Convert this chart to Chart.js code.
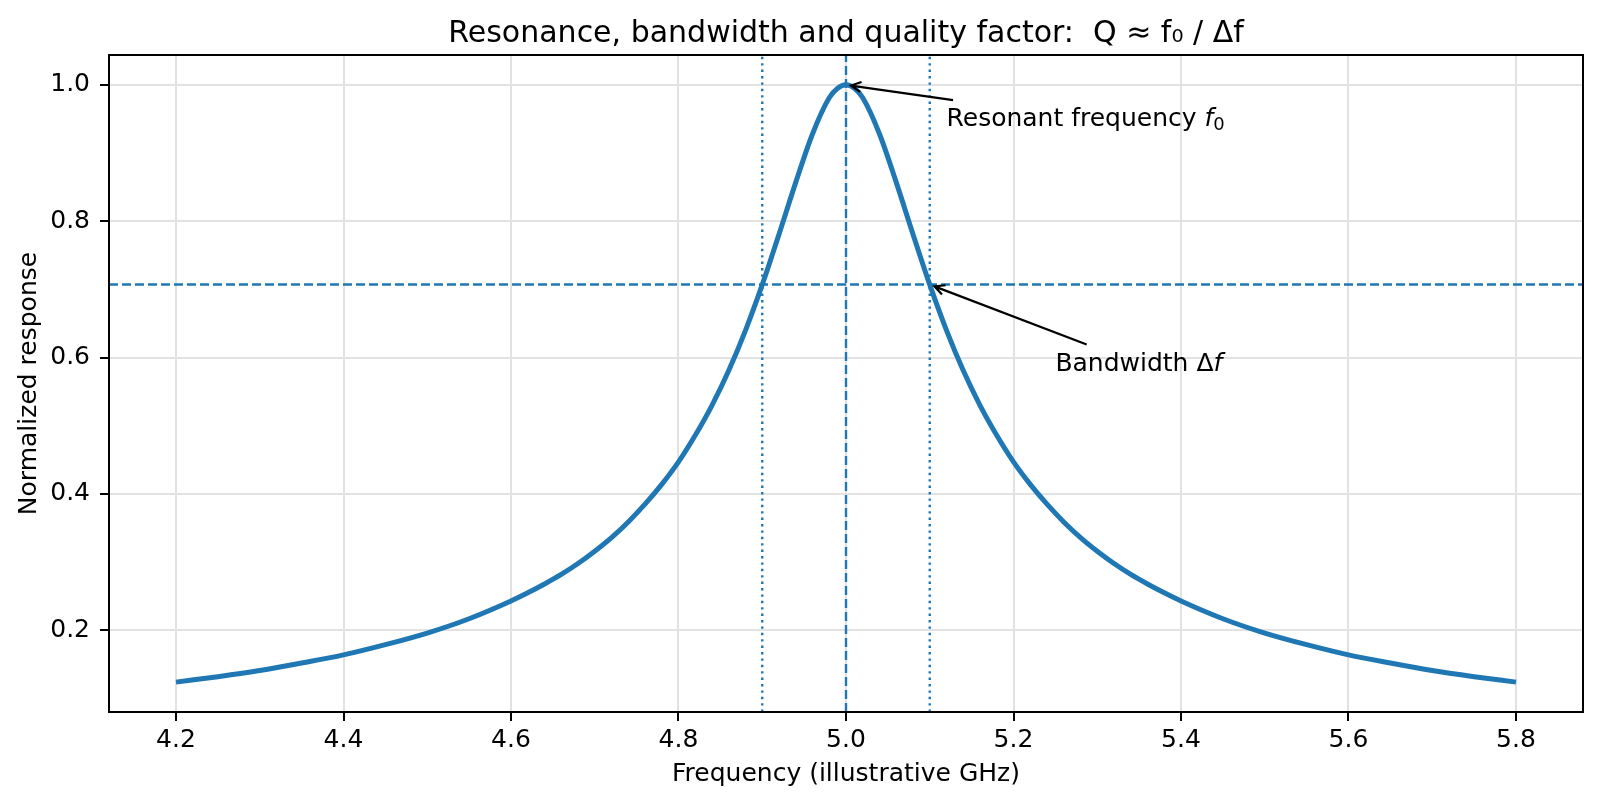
<!DOCTYPE html>
<html>
<head>
<meta charset="utf-8">
<script src="https://cdn.jsdelivr.net/npm/chart.js@4.4.1/dist/chart.umd.min.js"></script>
<style>
  body { margin: 0; background: #fff; }
  canvas { display: block; }
</style>
</head>
<body>
<canvas id="chart" width="1601" height="805"></canvas>
<script>
// values
var freq = [4.20, 4.25, 4.30, 4.35, 4.40, 4.45, 4.50, 4.55, 4.60, 4.62, 4.64, 4.66, 4.68, 4.70,
  4.72, 4.74, 4.76, 4.78, 4.80, 4.82, 4.84, 4.86, 4.88, 4.90, 4.92, 4.94, 4.96, 4.98, 4.99,
  5.00, 5.01, 5.02, 5.04, 5.06, 5.08, 5.10, 5.12, 5.14, 5.16, 5.18, 5.20, 5.22, 5.24, 5.26, 5.28,
  5.30, 5.32, 5.34, 5.36, 5.38, 5.40, 5.45, 5.50, 5.55, 5.60, 5.65, 5.70, 5.75, 5.80];
var response = [0.124, 0.132, 0.141, 0.152, 0.164, 0.179, 0.196, 0.217, 0.243, 0.255, 0.268, 0.282, 0.298, 0.316,
  0.336, 0.359, 0.385, 0.414, 0.447, 0.486, 0.530, 0.581, 0.640, 0.707, 0.781, 0.857, 0.928, 0.981, 0.995,
  1.000, 0.995, 0.981, 0.928, 0.857, 0.781, 0.707, 0.640, 0.581, 0.530, 0.486, 0.447, 0.414, 0.385, 0.359, 0.336,
  0.316, 0.298, 0.282, 0.268, 0.255, 0.243, 0.217, 0.196, 0.179, 0.164, 0.152, 0.141, 0.132, 0.124];

var xTicks = [4.2, 4.4, 4.6, 4.8, 5.0, 5.2, 5.4, 5.6, 5.8];
var yTicks = [0.2, 0.4, 0.6, 0.8, 1.0];
var xRange = [4.12, 5.88];
var yRange = [0.0802, 1.0438];

var centerFreq = 5.0;
var edgeFreqs = [4.9, 5.1];
var halfPower = 0.7071;

var titleText = "Resonance, bandwidth and quality factor:  Q \u2248 f\u2080 / \u0394f";
var noteLabels = ["Resonant frequency ", "Bandwidth \u0394"];
var noteMath = ["f", "f"];
var noteSub = ["0", ""];
var noteAt = [[5.12, 0.94], [5.25, 0.58]];
var notePoint = [[5.0, 1.0], [5.1, 0.7071]];

var blue = "#1f77b4";
var FONT = '"DejaVu Sans", sans-serif';
var FS = 25;

function vline(x) {
  return [{ x: x, y: yRange[0] }, { x: x, y: yRange[1] }];
}

var datasets = [
  {
    data: freq.map(function (f, i) { return { x: f, y: response[i] }; }),
    borderColor: blue, borderWidth: 5, pointRadius: 0,
    cubicInterpolationMode: "monotone", order: 2
  },
  {
    data: [{ x: xRange[0], y: halfPower }, { x: xRange[1], y: halfPower }],
    borderColor: blue, borderWidth: 2.4, borderDash: [9, 4], pointRadius: 0, order: 1
  },
  {
    data: vline(centerFreq),
    borderColor: blue, borderWidth: 2.4, borderDash: [9, 4], pointRadius: 0, order: 1
  }
];
edgeFreqs.forEach(function (f) {
  datasets.push({
    data: vline(f),
    borderColor: blue, borderWidth: 2.4, borderDash: [2.4, 4], pointRadius: 0, order: 1
  });
});

// frame, title and arrow notes
var decor = {
  id: "decor",
  afterDatasetsDraw: function (chart) {
    var ctx = chart.ctx, a = chart.chartArea;
    var xs = chart.scales.x, ys = chart.scales.y;
    ctx.save();
    ctx.strokeStyle = "#000";
    ctx.lineWidth = 2;
    ctx.strokeRect(a.left, a.top, a.right - a.left, a.bottom - a.top);

    ctx.fillStyle = "#000";
    ctx.font = "30px " + FONT;
    ctx.textAlign = "center";
    ctx.textBaseline = "alphabetic";
    ctx.fillText(titleText, (a.left + a.right) / 2, 42);

    ctx.textAlign = "left";
    for (var i = 0; i < noteLabels.length; i++) {
      var px = xs.getPixelForValue(noteAt[i][0]);
      var py = ys.getPixelForValue(noteAt[i][1]);
      ctx.font = FS + "px " + FONT;
      ctx.fillText(noteLabels[i], px, py);
      var w = ctx.measureText(noteLabels[i]).width;
      ctx.font = "italic " + FS + "px " + FONT;
      ctx.fillText(noteMath[i], px + w, py);
      w += ctx.measureText(noteMath[i]).width;
      if (noteSub[i]) {
        ctx.font = Math.round(FS * 0.7) + "px " + FONT;
        ctx.fillText(noteSub[i], px + w, py + 4);
        w += ctx.measureText(noteSub[i]).width;
      }
      // text box with padding, arrow runs from its centre toward the point
      var x0 = px - 5, x1 = px + w + 5, y0 = py - 0.8 * FS - 5, y1 = py + 0.25 * FS + 5;
      var cx = (x0 + x1) / 2, cy = (y0 + y1) / 2;
      var tx = xs.getPixelForValue(notePoint[i][0]);
      var ty = ys.getPixelForValue(notePoint[i][1]);
      var dx = tx - cx, dy = ty - cy;
      var t = 1;
      if (dx < 0) t = Math.min(t, (x0 - cx) / dx);
      if (dx > 0) t = Math.min(t, (x1 - cx) / dx);
      if (dy < 0) t = Math.min(t, (y0 - cy) / dy);
      if (dy > 0) t = Math.min(t, (y1 - cy) / dy);
      var len = Math.sqrt(dx * dx + dy * dy);
      var ux = dx / len, uy = dy / len;
      var sx = cx + dx * t + ux * 5, sy = cy + dy * t + uy * 5;
      var ex = tx - ux * 5, ey = ty - uy * 5;
      ctx.strokeStyle = "#000";
      ctx.lineWidth = 2.2;
      ctx.beginPath();
      ctx.moveTo(sx, sy);
      ctx.lineTo(ex, ey);
      var hl = 10, hw = 5;
      ctx.moveTo(ex - ux * hl - uy * hw, ey - uy * hl + ux * hw);
      ctx.lineTo(ex, ey);
      ctx.lineTo(ex - ux * hl + uy * hw, ey - uy * hl - ux * hw);
      ctx.stroke();
    }
    ctx.restore();
  }
};

var tickFont = { family: FONT, size: FS };

new Chart(document.getElementById("chart"), {
  type: "line",
  data: { datasets: datasets },
  options: {
    responsive: false,
    animation: false,
    devicePixelRatio: 1,
    layout: { padding: { top: 55, right: 18, left: 0, bottom: 0 } },
    plugins: { legend: { display: false }, tooltip: { enabled: false } },
    scales: {
      x: {
        type: "linear", min: xRange[0], max: xRange[1],
        afterBuildTicks: function (s) { s.ticks = xTicks.map(function (v) { return { value: v }; }); },
        afterFit: function (s) { s.height = 93; },
        ticks: { font: tickFont, color: "#000", padding: 4, maxRotation: 0, autoSkip: false,
          callback: function (v) { return v.toFixed(1); } },
        grid: { color: "#e2e2e2", lineWidth: 2, tickColor: "#000", tickLength: 9, tickWidth: 2 },
        border: { color: "#000", width: 2 },
        title: { display: true, text: "Frequency (illustrative GHz)", font: tickFont, color: "#000",
          padding: { top: 0, bottom: 16 } }
      },
      y: {
        type: "linear", min: yRange[0], max: yRange[1],
        afterBuildTicks: function (s) { s.ticks = yTicks.map(function (v) { return { value: v }; }); },
        afterFit: function (s) { s.width = 109; },
        ticks: { font: tickFont, color: "#000", padding: 10,
          callback: function (v) { return v.toFixed(1); } },
        grid: { color: "#e2e2e2", lineWidth: 2, tickColor: "#000", tickLength: 9, tickWidth: 2 },
        border: { color: "#000", width: 2 },
        title: { display: true, text: "Normalized response", font: tickFont, color: "#000",
          padding: { top: 14, bottom: 0 } }
      }
    }
  },
  plugins: [decor]
});
</script>
</body>
</html>
